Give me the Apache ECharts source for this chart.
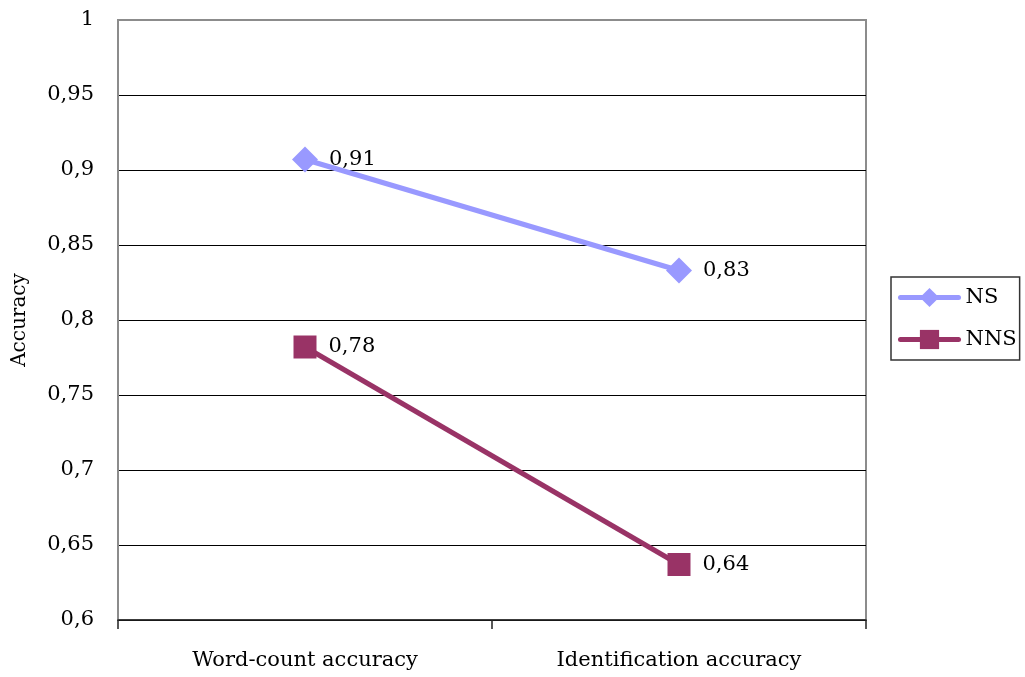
<!DOCTYPE html>
<html>
<head>
<meta charset="utf-8">
<script src="https://cdn.jsdelivr.net/npm/echarts@6/dist/echarts.min.js"></script>
<style>
  html, body { margin: 0; padding: 0; background: #fff; }
  #chart { width: 1025px; height: 677px; }
</style>
</head>
<body>
<div id="chart"></div>
<script>
// Accuracy of native (NS) and non-native (NNS) speakers per task
const categories = ['Word-count accuracy', 'Identification accuracy'];
const nsValues = [0.907, 0.833];
const nnsValues = [0.782, 0.637];
const yTicks = [0.6, 0.65, 0.7, 0.75, 0.8, 0.85, 0.9, 0.95, 1];

const FONT = '"DejaVu Serif", "Liberation Serif", serif';
const comma = v => String(v).replace('.', ',');

// black gridlines, except the top one which is left to the grey frame
const gridColors = yTicks.map((t, i) => (i === yTicks.length - 1 ? 'rgba(0,0,0,0)' : '#000'));

const chart = echarts.init(document.getElementById('chart'), null, { renderer: 'canvas' });

chart.setOption({
  animation: false,
  backgroundColor: '#ffffff',
  textStyle: { fontFamily: FONT, color: '#000' },
  grid: {
    left: 118, right: 159, top: 20, bottom: 57,
    outerBoundsMode: 'none',
    containLabel: false,
    show: true, borderColor: '#8c8c8c', borderWidth: 2, backgroundColor: 'transparent'
  },
  legend: {
    orient: 'vertical',
    left: 891, top: 277,
    padding: [10, 3, 10, 7],
    itemGap: 21,
    itemWidth: 58, itemHeight: 24,
    borderColor: '#333', borderWidth: 1.5,
    lineStyle: { width: 5, cap: 'round' },
    textStyle: { fontFamily: FONT, fontSize: 21, color: '#000', padding: [0, 0, 0, 2] },
    data: ['NS', 'NNS']
  },
  xAxis: {
    type: 'category',
    data: categories,
    boundaryGap: true,
    axisLine: { lineStyle: { color: '#222', width: 1.5 } },
    axisTick: { show: true, length: 9, lineStyle: { color: '#222', width: 1.5 } },
    axisLabel: { fontFamily: FONT, fontSize: 21, color: '#000', margin: 30 },
    splitLine: { show: false }
  },
  yAxis: {
    type: 'value',
    min: yTicks[0], max: yTicks[yTicks.length - 1], interval: 0.05,
    name: 'Accuracy',
    nameLocation: 'middle',
    nameGap: 88,
    nameRotate: 90,
    nameTextStyle: { fontFamily: FONT, fontSize: 20, color: '#000' },
    axisLine: { show: true, lineStyle: { color: '#8c8c8c', width: 2 } },
    axisTick: { show: false },
    axisLabel: {
      fontFamily: FONT, fontSize: 21, color: '#000', margin: 24,
      formatter: v => comma(Math.round(v * 100) / 100)
    },
    splitLine: { show: true, lineStyle: { color: gridColors, width: 1 } }
  },
  series: [
    {
      name: 'NS',
      type: 'line',
      data: nsValues,
      symbol: 'diamond',
      symbolSize: 26,
      lineStyle: { color: '#9999ff', width: 5 },
      itemStyle: { color: '#9999ff' },
      label: {
        show: true, position: 'right', distance: 11,
        fontFamily: FONT, fontSize: 21, color: '#000',
        formatter: p => comma(p.value.toFixed(2))
      }
    },
    {
      name: 'NNS',
      type: 'line',
      data: nnsValues,
      symbol: 'rect',
      symbolSize: 23,
      lineStyle: { color: '#993366', width: 5 },
      itemStyle: { color: '#993366' },
      label: {
        show: true, position: 'right', distance: 12,
        fontFamily: FONT, fontSize: 21, color: '#000',
        formatter: p => comma(p.value.toFixed(2))
      }
    }
  ]
});
</script>
</body>
</html>
